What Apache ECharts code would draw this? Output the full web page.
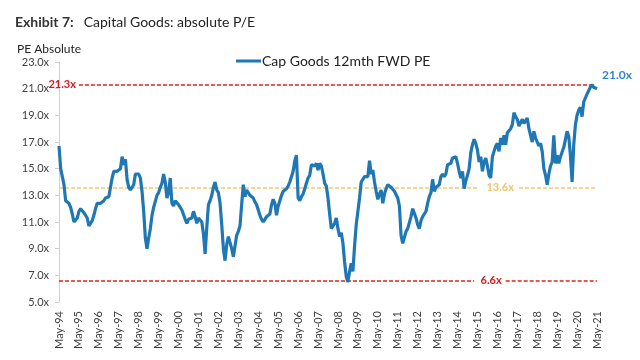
<!DOCTYPE html>
<html>
<head>
<meta charset="utf-8">
<script src="https://cdn.jsdelivr.net/npm/echarts@6/dist/echarts.min.js"></script>
<style>
html,body{margin:0;padding:0;background:#fff;}
#chart{width:640px;height:360px;}
</style>
</head>
<body>
<div id="chart"></div>
<script>
// Monthly series start (May-1994) and month names for labels
var startYear = 1994;
var startMonth = 4; // 0-based, May
var monthNames = ['Jan','Feb','Mar','Apr','May','Jun','Jul','Aug','Sep','Oct','Nov','Dec'];

// Cap Goods 12mth FWD PE, monthly from May-94 to May-21
var capGoodsPE = [
  16.7,15.0,14.4,13.8,12.6,12.5,12.4,12.1,11.6,11.0,10.9,11.3,
  11.8,12.0,11.9,11.7,11.7,11.3,10.7,10.8,11.1,11.5,12.0,12.4,
  12.5,12.4,12.3,12.6,12.8,12.8,12.9,13.6,14.3,14.8,14.7,14.8,
  14.8,15.0,15.9,15.3,15.7,14.2,13.6,13.4,13.3,13.8,14.6,14.7,
  14.6,14.3,13.3,11.8,9.8,9.0,9.8,10.5,11.5,12.1,12.0,13.0,
  13.2,13.6,13.9,14.6,14.0,12.8,13.2,14.3,12.4,12.2,12.6,12.7,
  12.3,12.1,11.9,11.9,11.2,10.9,11.2,11.2,11.3,11.8,11.4,10.9,
  11.3,11.4,11.0,10.1,8.6,10.6,12.3,12.6,13.0,13.6,14.0,13.4,
  13.2,12.4,10.8,9.0,8.1,9.3,9.9,10.0,9.0,8.4,9.2,10.0,
  10.3,10.7,12.3,13.8,12.9,13.4,13.4,13.0,13.0,12.8,12.5,12.3,
  11.9,11.5,11.2,11.0,11.2,11.4,11.5,11.6,12.3,12.7,12.4,11.5,
  12.2,12.6,13.0,13.3,13.4,13.5,13.7,14.0,14.4,14.8,15.6,16.0,
  12.8,12.6,12.9,13.1,13.5,13.9,14.3,14.5,15.3,15.3,15.2,15.4,
  14.9,15.4,15.2,14.6,13.9,13.7,12.8,11.6,10.5,10.6,10.9,11.3,
  10.5,9.9,10.2,9.4,8.0,6.9,6.5,7.3,7.9,7.3,9.2,10.8,
  11.8,12.8,14.0,14.2,14.4,14.3,14.4,15.6,14.6,14.9,14.0,13.3,
  12.7,13.1,13.4,12.4,13.1,13.5,13.8,13.9,13.6,13.5,13.3,13.2,
  12.8,12.2,10.0,9.4,9.5,10.3,10.5,10.5,11.4,12.0,11.9,11.3,
  10.8,10.5,11.1,11.4,11.6,11.8,12.4,12.9,13.2,14.2,13.3,13.6,
  13.6,13.8,14.4,14.6,14.4,14.6,15.3,15.2,15.4,15.8,15.8,15.9,
  15.4,14.8,14.3,14.8,13.5,14.1,14.5,15.0,16.2,16.8,17.2,16.9,
  16.4,15.5,15.9,14.8,15.5,15.8,15.2,14.5,14.3,15.9,16.3,16.7,
  16.9,16.3,17.3,16.8,17.5,16.8,17.7,17.8,18.0,18.3,19.2,18.9,
  18.7,18.2,18.2,18.7,18.4,18.6,18.8,18.0,18.0,17.0,17.8,17.3,
  17.4,16.7,16.9,16.3,15.0,14.5,13.8,14.6,15.2,15.5,17.5,15.4,
  16.0,15.4,15.9,15.9,16.6,17.2,17.8,17.4,16.0,14.0,16.8,18.3,
  19.0,19.4,19.6,18.9,20.0,20.3,20.6,20.6,21.1,21.3,21.1,21.0,21.0
];

// Reference levels
var maxLevel = 21.3;
var avgLevel = 13.6;
var minLevel = 6.6;

// Y axis ticks
var yMin = 5, yMax = 23, yStep = 2;

var categories = [];
for (var i = 0; i < capGoodsPE.length; i++) {
  var mIdx = startMonth + i;
  var yr = startYear + Math.floor(mIdx / 12);
  categories.push(monthNames[mIdx % 12] + '-' + String(yr % 100).padStart(2, '0'));
}
var lastIdx = capGoodsPE.length - 1;

var FONT = 'Lato';
var lineBlue = '#1f77b4';
var redLine = '#e2231a';
var redText = '#d7191c';
var orangeLine = '#f4c873';
var orangeText = '#efc46e';

function seg(level, from, to, color, labelText, labelColor, dist) {
  return [
    {coord: [from, level], lineStyle: {color: color},
     label: labelText ? {show: true, position: 'start', formatter: labelText, color: labelColor,
       fontWeight: 'bold', fontSize: 11, fontFamily: FONT, distance: dist} : {show: false}},
    {coord: [to, level]}
  ];
}

var chart = echarts.init(document.getElementById('chart'), null, {renderer: 'canvas'});
chart.setOption({
  animation: false,
  backgroundColor: '#ffffff',
  title: [
    {
      left: 10, top: 8,
      text: '{b|Exhibit 7:}  {n|Capital Goods: absolute P/E}',
      textStyle: {
        fontWeight: 'normal',
        rich: {
          b: {fontFamily: FONT, fontSize: 14, fontWeight: 'bold', color: '#333333'},
          n: {fontFamily: FONT, fontSize: 14, fontWeight: 'normal', color: '#222222'}
        }
      }
    },
    {
      left: 12, top: 38,
      text: 'PE Absolute',
      textStyle: {fontFamily: FONT, fontSize: 12, fontWeight: 'normal', color: '#222222'}
    }
  ],
  legend: {
    left: 231, top: 49,
    icon: 'rect',
    itemWidth: 25, itemHeight: 3,
    itemGap: 10,
    textStyle: {fontFamily: FONT, fontSize: 14, color: '#222222', padding: [0, 0, 0, -4]},
    data: [{name: 'Cap Goods 12mth FWD PE', itemStyle: {color: lineBlue}}]
  },
  grid: {left: 59, right: 43, top: 62, bottom: 58},
  xAxis: {
    type: 'category',
    data: categories,
    boundaryGap: false,
    axisLine: {show: false},
    axisTick: {show: false},
    axisLabel: {
      interval: function (idx) { return idx % 12 === 0; },
      rotate: 90,
      margin: 9,
      fontFamily: FONT, fontSize: 11, color: '#404040'
    },
    splitLine: {show: false}
  },
  yAxis: {
    type: 'value',
    min: yMin, max: yMax, interval: yStep,
    axisLine: {show: true, lineStyle: {color: '#d0d0d0'}},
    axisTick: {show: true, length: 4, lineStyle: {color: '#d0d0d0'}},
    splitLine: {show: false},
    axisLabel: {
      formatter: function (v) { return v.toFixed(1) + 'x'; },
      margin: 10,
      fontFamily: FONT, fontSize: 11, color: '#404040'
    }
  },
  series: [{
    name: 'Cap Goods 12mth FWD PE',
    type: 'line',
    data: capGoodsPE,
    symbol: 'none',
    z: 5,
    lineStyle: {color: lineBlue, width: 3.2},
    itemStyle: {color: lineBlue},
    endLabel: {
      show: true,
      formatter: function (p) { return p.value.toFixed(1) + 'x'; },
      color: '#2e86d0', fontWeight: 'bold', fontSize: 12, fontFamily: FONT,
      offset: [-3, -14]
    },
    markLine: {
      silent: true,
      symbol: ['none', 'none'],
      lineStyle: {type: [4, 2], width: 1.5},
      label: {show: false},
      data: [
        seg(maxLevel, 12, lastIdx - 3, redLine, maxLevel.toFixed(1) + 'x', redText, 3),
        seg(avgLevel, 0, 253, orangeLine, null),
        seg(avgLevel, 277, lastIdx, orangeLine, avgLevel.toFixed(1) + 'x', orangeText, 5),
        seg(minLevel, 0, 250, redLine, null),
        seg(minLevel, 269, lastIdx, redLine, minLevel.toFixed(1) + 'x', redText, 4)
      ]
    }
  }]
});
</script>
</body>
</html>
